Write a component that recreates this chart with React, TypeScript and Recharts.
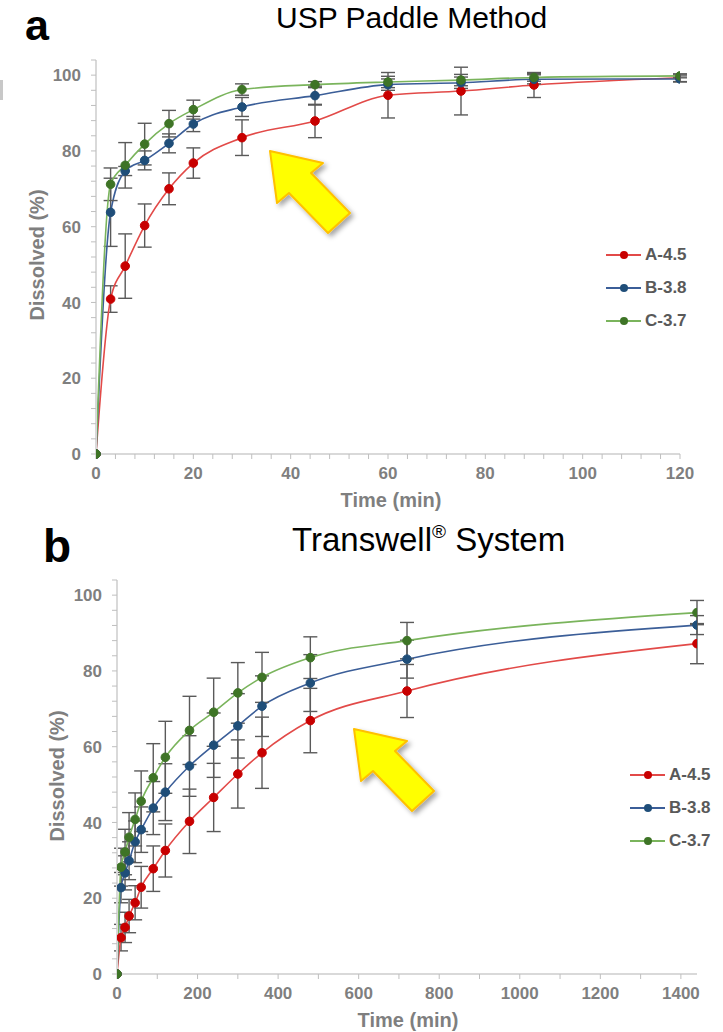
import { LineChart, Line, XAxis, YAxis, ErrorBar, Legend } from 'recharts';

// panel a: USP paddle method
const uspTimes = [0, 3, 6, 10, 15, 20, 30, 45, 60, 75, 90, 120];
const uspA = [0, 40.9, 49.6, 60.3, 70.0, 76.8, 83.5, 87.9, 94.7, 95.8, 97.4, 99.3];
const uspB = [0, 63.8, 74.7, 77.5, 82.0, 87.1, 91.6, 94.6, 97.5, 98.0, 98.9, 99.0];
const uspC = [0, 71.2, 76.2, 81.8, 87.2, 90.9, 96.2, 97.5, 98.2, 98.7, 99.4, 99.8];
const uspAErr = [0, 3.5, 8.5, 5.7, 4.2, 4.0, 4.7, 4.4, 6.0, 6.3, 3.3, 1.0];
const uspBErr = [0, 9.0, 1.2, 2.5, 2.5, 2.0, 2.5, 2.5, 1.5, 1.5, 1.2, 0.8];
const uspCErr = [0, 4.3, 6.0, 5.5, 3.5, 2.5, 1.5, 0.8, 1.5, 1.5, 1.0, 0.5];

// panel b: Transwell system
const twTimes = [0, 10, 20, 30, 45, 60, 90, 120, 180, 240, 300, 360, 480, 720, 1440];
const twA = [0, 9.6, 12.3, 15.3, 18.8, 22.9, 27.8, 32.6, 40.3, 46.6, 52.8, 58.4, 66.9, 74.7, 87.2];
const twB = [0, 22.8, 26.7, 29.9, 34.9, 38.1, 43.8, 48.0, 54.9, 60.4, 65.5, 70.7, 76.8, 83.1, 92.1];
const twC = [0, 28.2, 32.2, 36.1, 40.8, 45.6, 51.8, 57.2, 64.3, 69.1, 74.2, 78.3, 83.5, 88.0, 95.4];
const twAErr = [0, 3.5, 4.0, 4.4, 4.5, 5.5, 6.0, 7.0, 8.5, 9.0, 9.0, 9.4, 8.5, 7.0, 5.3];
const twBErr = [0, 4.0, 4.5, 5.0, 5.5, 6.0, 7.0, 7.5, 8.0, 8.5, 8.5, 8.0, 7.5, 5.0, 2.5];
const twCErr = [0, 5.0, 6.0, 6.5, 7.0, 8.0, 9.0, 9.5, 9.0, 9.0, 8.0, 6.6, 5.5, 4.8, 3.2];

const yTicks = [0, 4, 8, 12, 16, 20, 24, 28, 32, 36, 40, 44, 48, 52, 56, 60, 64, 68, 72, 76, 80, 84, 88, 92, 96, 100, 104];
const uspXTicks = [0, 4, 8, 12, 16, 20, 24, 28, 32, 36, 40, 44, 48, 52, 56, 60, 64, 68, 72, 76, 80, 84, 88, 92, 96, 100, 104, 108, 112, 116, 120];
const twXTicks = [0, 100, 200, 300, 400, 500, 600, 700, 800, 900, 1000, 1100, 1200, 1300, 1400];

const SERIES = [
  { key: 'a', name: 'A-4.5', line: '#e24a48', marker: '#c80000' },
  { key: 'b', name: 'B-3.8', line: '#3b5e98', marker: '#1f4e79' },
  { key: 'c', name: 'C-3.7', line: '#7ab45c', marker: '#3e7426' },
];

const uspRows = uspTimes.map((t, i) => ({
  t,
  a: uspA[i], b: uspB[i], c: uspC[i],
  aErr: uspAErr[i], bErr: uspBErr[i], cErr: uspCErr[i],
}));

const twRows = twTimes.map((t, i) => ({
  t,
  a: twA[i], b: twB[i], c: twC[i],
  aErr: twAErr[i], bErr: twBErr[i], cErr: twCErr[i],
}));

const TICK_FONT = { fontSize: 17, fontWeight: 'bold' as const, fill: '#7f7f7f' };

const makeYTick = (step: number) => (props: any) => {
  const { x, y, payload } = props;
  if (payload.value % step !== 0) return <g />;
  return (
    <text x={x} y={y} dy="0.36em" textAnchor="end" {...TICK_FONT}>
      {payload.value}
    </text>
  );
};

const makeXTick = (step: number) => (props: any) => {
  const { x, y, payload } = props;
  if (payload.value % step !== 0) return <g />;
  return (
    <text x={x} y={y} dy="0.72em" textAnchor="middle" {...TICK_FONT}>
      {payload.value}
    </text>
  );
};

const LegendBox = ({ payload }: any) => (
  <div>
    {(payload || []).map((item: any) => {
      const s = SERIES.find((d) => d.key === item.dataKey) || SERIES[0];
      return (
        <div key={s.key} style={{ display: 'flex', alignItems: 'center', height: 33 }}>
          <svg width={36} height={10}>
            <line x1={0} y1={5} x2={35} y2={5} stroke={s.line} strokeWidth={1.8} />
            <circle cx={18} cy={5} r={4} fill={s.marker} />
          </svg>
          <span style={{ fontSize: 17, fontWeight: 'bold', color: '#595959', marginLeft: 3 }}>{s.name}</span>
        </div>
      );
    })}
  </div>
);

function DissolutionChart({ rows, xDomain, xTicks, xStep, width, height, margin, legendPos }: any) {
  return (
    <LineChart width={width} height={height} data={rows} margin={margin}>
      <XAxis
        dataKey="t"
        type="number"
        domain={xDomain}
        ticks={xTicks}
        interval={0}
        height={30}
        tickSize={5}
        tickMargin={8}
        axisLine={{ stroke: '#d9d9d9', strokeWidth: 2 }}
        tickLine={{ stroke: '#bfbfbf' }}
        tick={makeXTick(xStep)}
        allowDataOverflow
      />
      <YAxis
        type="number"
        domain={[0, 104]}
        ticks={yTicks}
        interval={0}
        width={60}
        tickSize={5}
        tickMargin={10}
        axisLine={{ stroke: '#d9d9d9', strokeWidth: 2 }}
        tickLine={{ stroke: '#bfbfbf' }}
        tick={makeYTick(20)}
      />
      <Legend
        layout="vertical"
        align="center"
        verticalAlign="middle"
        content={<LegendBox />}
        wrapperStyle={{ left: legendPos.left, top: legendPos.top, width: 110 }}
      />
      {SERIES.map((s) => (
        <Line
          key={s.key}
          type="monotone"
          dataKey={s.key}
          name={s.name}
          stroke={s.line}
          strokeWidth={1.6}
          dot={{ r: 4.3, fill: s.marker, stroke: s.marker, strokeWidth: 1 }}
          isAnimationActive={false}
        >
          <ErrorBar
            dataKey={`${s.key}Err`}
            direction="y"
            width={7}
            stroke="#5a5a5a"
            strokeWidth={1.4}
            isAnimationActive={false}
          />
        </Line>
      ))}
    </LineChart>
  );
}

const ARROW = [[0, 0], [53, 12], [41, 22], [80, 62], [58, 82], [19, 42], [7, 52]];
const arrowPoints = (tx: number, ty: number) => ARROW.map(([dx, dy]) => `${tx + dx},${ty + dy}`).join(' ');

export default function App() {
  return (
    <div
      style={{
        position: 'absolute',
        left: 0,
        top: 0,
        width: 723,
        height: 1032,
        background: '#fff',
        fontFamily: '"Liberation Sans", Arial, sans-serif',
      }}
    >
      <div style={{ position: 'absolute', left: 0, top: 0 }}>
        <DissolutionChart
          rows={uspRows}
          xDomain={[0, 120]}
          xTicks={uspXTicks}
          xStep={20}
          width={723}
          height={520}
          margin={{ top: 60, right: 43, bottom: 36, left: 36 }}
          legendPos={{ left: 606, top: 238 }}
        />
      </div>
      <div style={{ position: 'absolute', left: 0, top: 520 }}>
        <DissolutionChart
          rows={twRows}
          xDomain={[0, 1440]}
          xTicks={twXTicks}
          xStep={200}
          width={723}
          height={512}
          margin={{ top: 60, right: 26, bottom: 28, left: 57 }}
          legendPos={{ left: 630, top: 238 }}
        />
      </div>
      <svg
        width={723}
        height={1032}
        style={{ position: 'absolute', left: 0, top: 0, pointerEvents: 'none' }}
        fontFamily='"Liberation Sans", Arial, sans-serif'
      >
        <defs>
          <filter id="shadow" x="-30%" y="-30%" width="160%" height="160%">
            <feDropShadow dx="3" dy="3" stdDeviation="2.5" floodColor="#000" floodOpacity="0.35" />
          </filter>
        </defs>
        <rect x={0} y={80} width={3} height={20} fill="#c8c8c8" />

        <text x={25} y={40} fontSize={43} fontWeight="bold" fill="#000">a</text>
        <text x={276} y={28} fontSize={30} fill="#000">USP Paddle Method</text>
        <text x={43} y={562} fontSize={46} fontWeight="bold" fill="#000">b</text>
        <text x={292} y={551} fontSize={33} fill="#000">
          Transwell<tspan fontSize={19} dy={-13}>®</tspan>
          <tspan dy={13}> System</tspan>
        </text>

        <text
          transform="translate(44,255) rotate(-90)"
          textAnchor="middle"
          fontSize={20}
          fontWeight="bold"
          fill="#7f7f7f"
        >
          Dissolved (%)
        </text>
        <text
          transform="translate(64,776) rotate(-90)"
          textAnchor="middle"
          fontSize={20}
          fontWeight="bold"
          fill="#7f7f7f"
        >
          Dissolved (%)
        </text>
        <text x={391} y={507} textAnchor="middle" fontSize={20} fontWeight="bold" fill="#7f7f7f">
          Time (min)
        </text>
        <text x={408} y={1027} textAnchor="middle" fontSize={20} fontWeight="bold" fill="#7f7f7f">
          Time (min)
        </text>

        <polygon
          points={arrowPoints(270, 151)}
          fill="#ffff00"
          stroke="#ffc000"
          strokeWidth={2}
          strokeLinejoin="round"
          filter="url(#shadow)"
        />
        <polygon
          points={arrowPoints(354, 729)}
          fill="#ffff00"
          stroke="#ffc000"
          strokeWidth={2}
          strokeLinejoin="round"
          filter="url(#shadow)"
        />
      </svg>
    </div>
  );
}
